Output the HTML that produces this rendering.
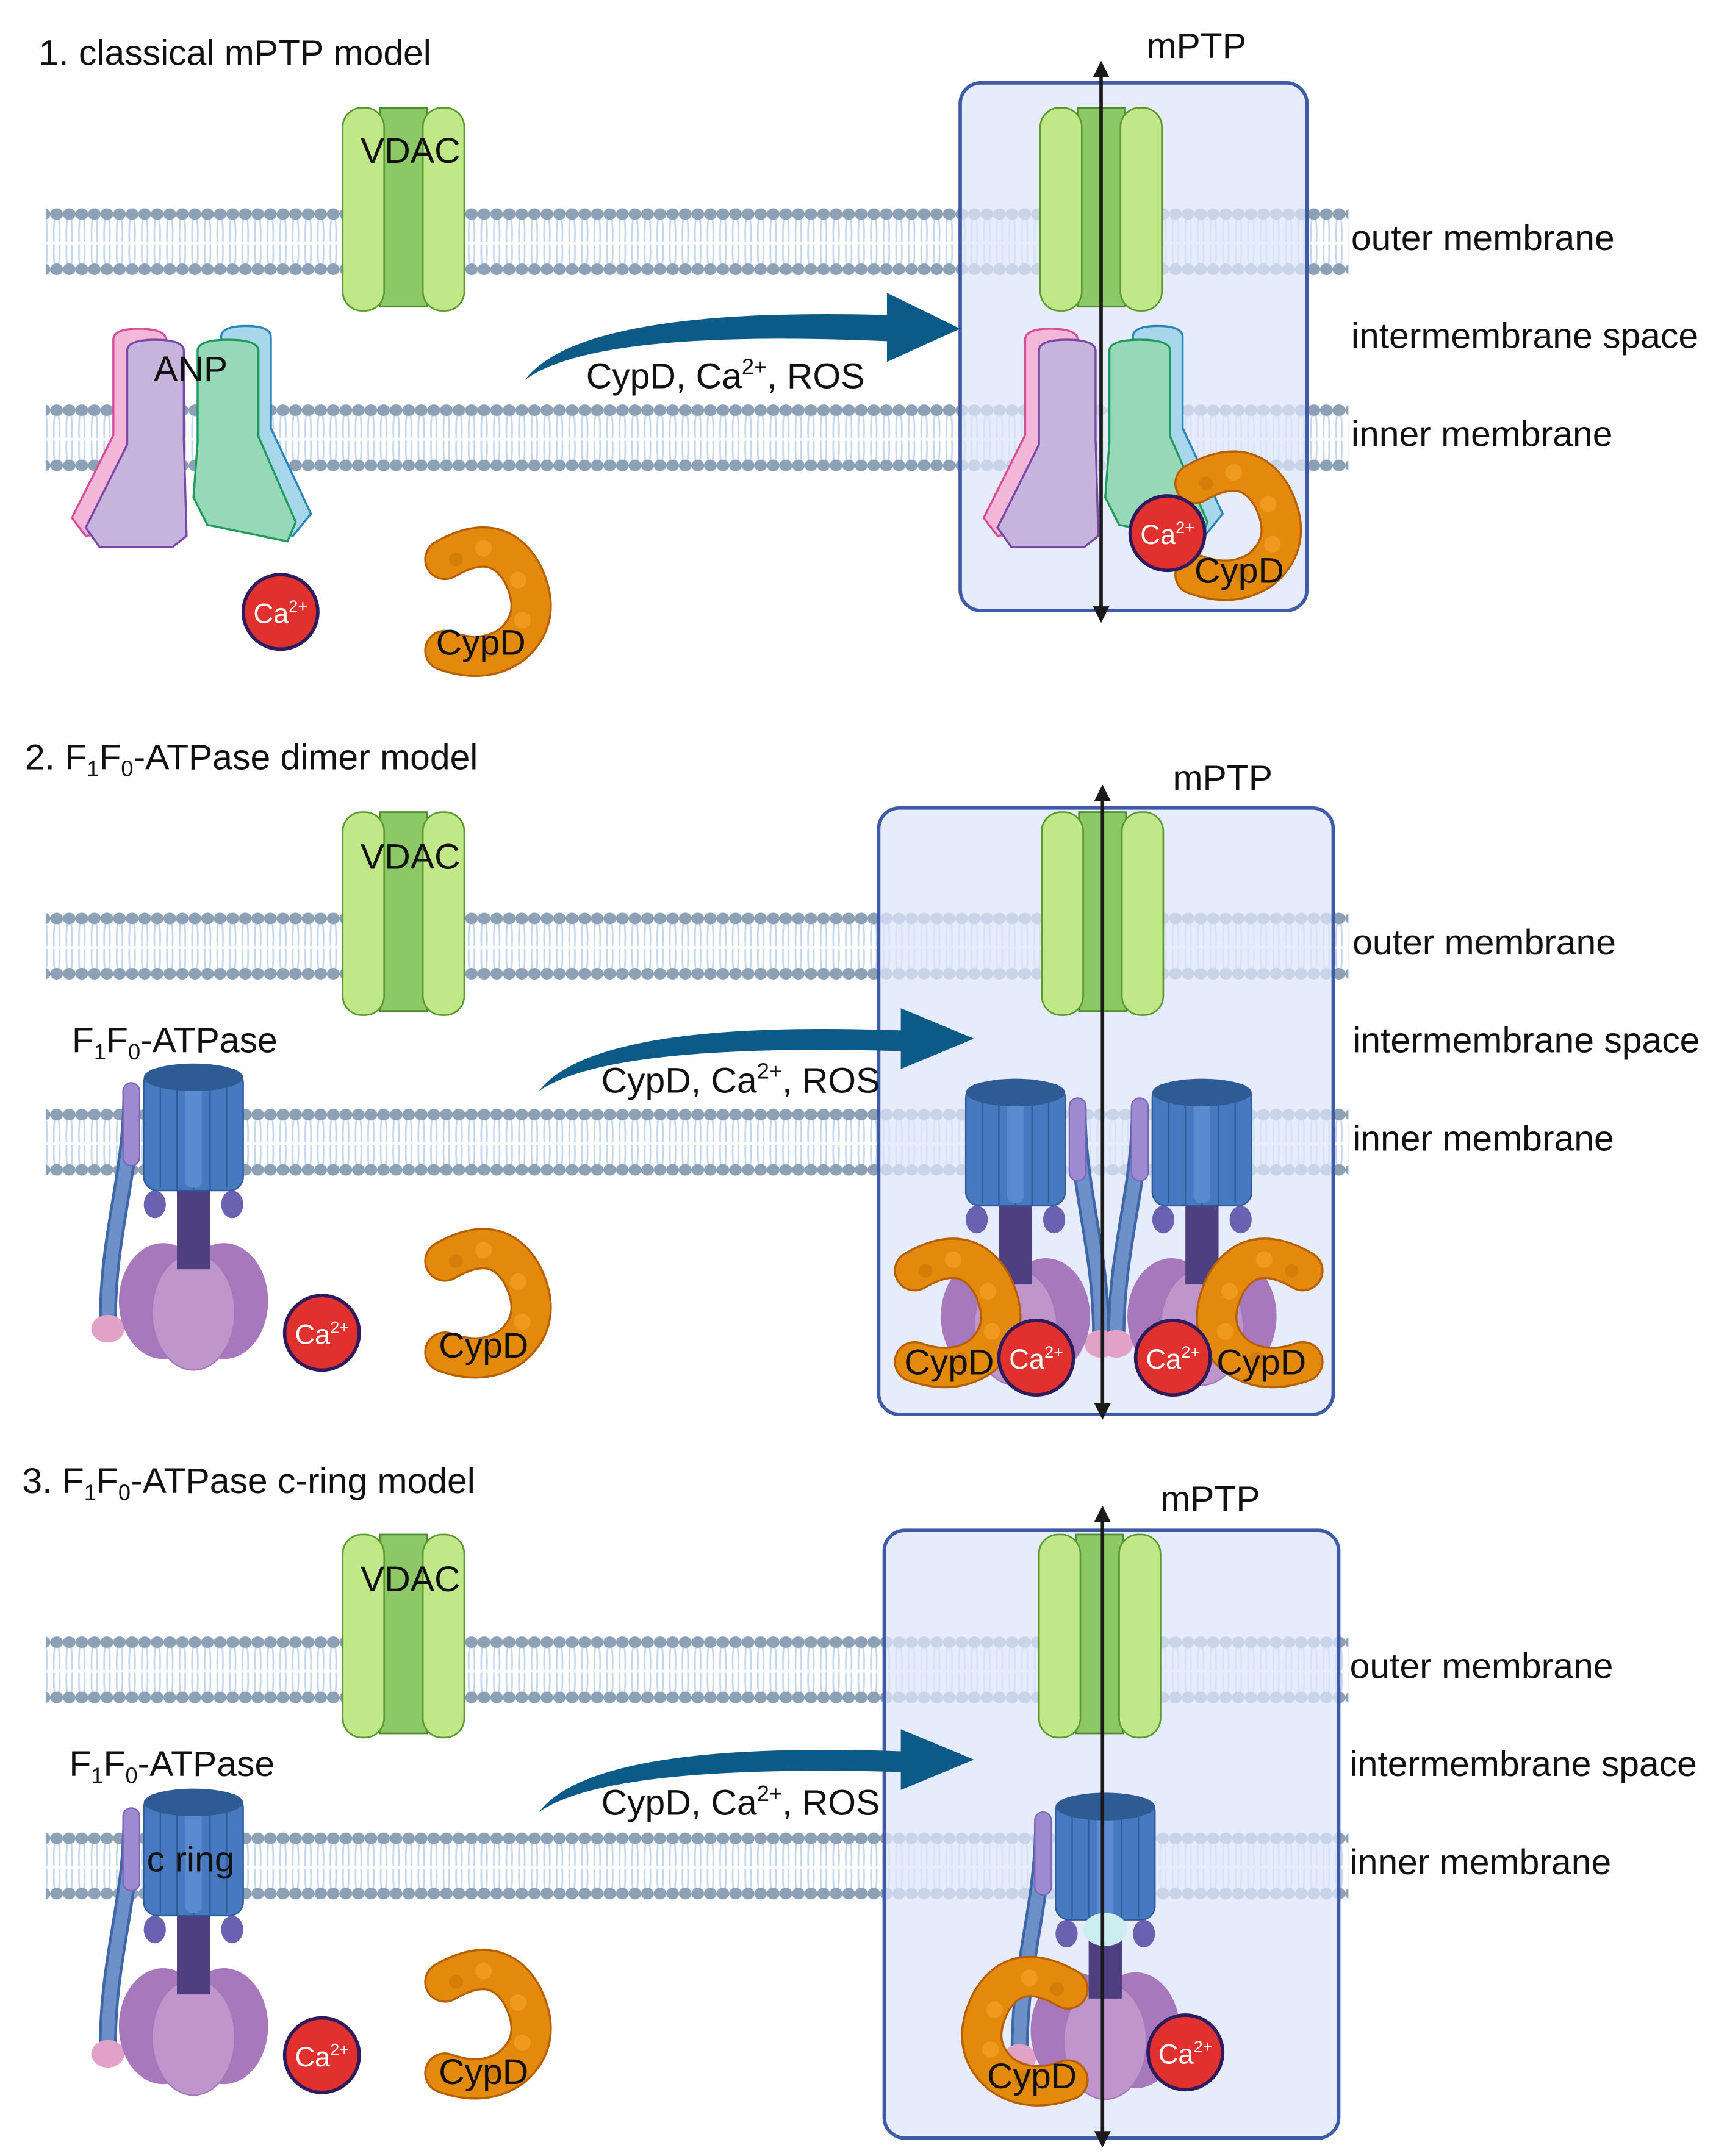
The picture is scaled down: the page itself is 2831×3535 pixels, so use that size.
<!DOCTYPE html>
<html><head><meta charset="utf-8"><style>
html,body{margin:0;padding:0;background:#fff;}
svg{display:block;}
text{font-family:"Liberation Sans",Arial,sans-serif;fill:#111;}
</style></head><body>
<svg width="2831" height="3535" viewBox="0 0 1250 1561" xmlns="http://www.w3.org/2000/svg">
<defs>
<pattern id="mem" patternUnits="userSpaceOnUse" width="9.1" height="60" x="0" y="0">
  <g stroke="#c3d6ec" stroke-width="1.2" fill="none">
    <path d="M3 9 Q2.2 17 2.6 25"/><path d="M6.1 9 Q7 17 6.5 25"/>
    <path d="M2.6 27 Q2.2 35 3 42"/><path d="M6.1 42 Q7 35 6.5 27"/>
  </g>
  <ellipse cx="4.55" cy="5" rx="4.6" ry="4.2" fill="#8ca1b6"/>
  <ellipse cx="4.55" cy="45" rx="4.6" ry="4.2" fill="#8ca1b6"/>
</pattern>
<g id="vdac">
  <rect x="27" y="0" width="34" height="144" fill="#8cc866" stroke="#4e8d2c" stroke-width="1.2"/>
  <rect x="0" y="0" width="30" height="147" rx="14" fill="#c0e888" stroke="#5a9a30" stroke-width="1.2"/>
  <rect x="58" y="0" width="30" height="147" rx="14" fill="#c0e888" stroke="#5a9a30" stroke-width="1.2"/>
</g>
<g id="cypd">
  <path d="M-28,-30 Q10,-52 28,-20 Q44,12 20,32 Q0,46 -28,36" fill="none" stroke="#b75f00" stroke-width="30" stroke-linecap="round"/>
  <path d="M-28,-30 Q10,-52 28,-20 Q44,12 20,32 Q0,46 -28,36" fill="none" stroke="#e38a0c" stroke-width="27" stroke-linecap="round"/>
  <circle cx="0" cy="-38" r="6" fill="#ef9a1e"/><circle cx="25" cy="-15" r="6" fill="#ef9a1e"/><circle cx="28" cy="14" r="6" fill="#ef9a1e"/><circle cx="-20" cy="-30" r="5" fill="#d47d08"/><circle cx="5" cy="35" r="6" fill="#d47d08"/>
</g>
<g id="ca"><circle cx="0" cy="0" r="27" fill="#e0312e" stroke="#2e1a5c" stroke-width="2.5"/></g>
<g id="atp">
  <path d="M-45,20 C-45,80 -62,120 -62,185" fill="none" stroke="#3f67a8" stroke-width="13" stroke-linecap="round"/>
  <path d="M-45,20 C-45,80 -62,120 -62,185" fill="none" stroke="#6e90c8" stroke-width="9" stroke-linecap="round"/>
  <rect x="-51" y="12" width="12" height="60" rx="6" fill="#9d8ad0" stroke="#7a66b8"/>
  <ellipse cx="-62" cy="190" rx="12" ry="10" fill="#e2a2c8"/>
  <ellipse cx="-28" cy="100" rx="8" ry="10" fill="#6a62b0"/><ellipse cx="28" cy="100" rx="8" ry="10" fill="#6a62b0"/>
  <ellipse cx="-22" cy="170" rx="32" ry="42" fill="#a878bc"/><ellipse cx="22" cy="170" rx="32" ry="42" fill="#a878bc"/>
  <ellipse cx="0" cy="178" rx="30" ry="42" fill="#c095cc" stroke="#a07ab8"/>
  <rect x="-12" y="85" width="24" height="62" fill="#4e4080"/>
  <rect x="-36" y="2" width="72" height="88" rx="10" fill="#4679bf" stroke="#2e5a98"/>
  <g stroke="#2e5a98" stroke-width="1"><line x1="-24" y1="10" x2="-24" y2="88"/><line x1="-12" y1="10" x2="-12" y2="90"/><line x1="0" y1="10" x2="0" y2="90"/><line x1="12" y1="10" x2="12" y2="90"/><line x1="24" y1="10" x2="24" y2="88"/></g>
  <rect x="-6" y="12" width="12" height="76" rx="5" fill="#5a8ad0"/>
  <ellipse cx="0" cy="8" rx="36" ry="10" fill="#2e5b94"/>
</g>
<g id="anp">
  <path d="M82,246 Q82,238 100,238 Q120,238 120,246 L120,310 L108,382 L62,388 L52,375 L82,315 Z" fill="#f3b8d8" stroke="#d84c9a" stroke-width="1.5"/>
  <path d="M92,254 Q92,246 112,246 Q133,246 133,254 L133,318 L135,388 L125,396 L72,396 L62,382 L92,322 Z" fill="#c6b4dc" stroke="#7a48a8" stroke-width="1.5"/>
  <path d="M160,244 Q160,236 178,236 Q196,236 196,244 L196,310 L225,372 L212,388 L180,380 Z" fill="#a8d6ea" stroke="#2b86b8" stroke-width="1.5"/>
  <path d="M143,254 Q143,246 165,246 Q187,246 187,254 L187,316 L214,378 L208,392 L150,380 L140,360 L143,320 Z" fill="#96d8b8" stroke="#1f9a5a" stroke-width="1.5"/>
</g>
</defs>

<!-- membranes -->
<g fill="url(#mem)">
  <g transform="translate(0,150)"><rect x="33" y="0" width="943" height="50"/></g>
  <g transform="translate(0,292)"><rect x="33" y="0" width="943" height="50"/></g>
  <g transform="translate(0,660)"><rect x="33" y="0" width="943" height="50"/></g>
  <g transform="translate(0,802)"><rect x="33" y="0" width="943" height="50"/></g>
  <g transform="translate(0,1184)"><rect x="33" y="0" width="943" height="50"/></g>
  <g transform="translate(0,1326)"><rect x="33" y="0" width="943" height="50"/></g>
</g>

<!-- boxes -->
<rect x="695" y="60" width="251" height="382" rx="15" fill="#dde6fa" fill-opacity="0.75" stroke="#3f5aa6" stroke-width="2.5"/>
<rect x="636" y="585" width="329" height="439" rx="15" fill="#dde6fa" fill-opacity="0.75" stroke="#3f5aa6" stroke-width="2.5"/>
<rect x="640" y="1108" width="329" height="440" rx="15" fill="#dde6fa" fill-opacity="0.75" stroke="#3f5aa6" stroke-width="2.5"/>

<!-- panel 1 -->
<text x="28" y="47" font-size="26">1.  classical mPTP model</text>
<use href="#vdac" x="248" y="78"/>
<text x="297" y="118" font-size="26" text-anchor="middle">VDAC</text>
<use href="#anp"/>
<text x="138" y="276" font-size="26" text-anchor="middle">ANP</text>
<use href="#ca" x="203" y="443"/>
<text x="203" y="451" font-size="20" text-anchor="middle" style="fill:#fff">Ca<tspan font-size="12" dy="-8">2+</tspan></text>
<use href="#cypd" x="350" y="435"/>
<text x="348" y="474" font-size="26" text-anchor="middle">CypD</text>
<path d="M380,275 Q420,222 642,228 L642,212 L695,238 L642,262 L642,247 Q430,238 380,275 Z" fill="#0b5a88"/>
<text x="525" y="281" font-size="26" text-anchor="middle">CypD, Ca<tspan font-size="16" dy="-10">2+</tspan><tspan dy="10">, ROS</tspan></text>
<use href="#vdac" x="753" y="78"/>
<use href="#anp" x="660"/>
<use href="#cypd" x="893" y="380"/>
<use href="#ca" x="845" y="386"/>
<text x="845" y="394" font-size="20" text-anchor="middle" style="fill:#fff">Ca<tspan font-size="12" dy="-8">2+</tspan></text>
<text x="897" y="422" font-size="26" text-anchor="middle">CypD</text>
<text x="866" y="42" font-size="26" text-anchor="middle">mPTP</text>
<text x="978" y="181" font-size="26">outer membrane</text>
<text x="978" y="252" font-size="26">intermembrane space</text>
<text x="978" y="323" font-size="26">inner membrane</text>
<line x1="797" y1="52" x2="797" y2="443" stroke="#1a1a1a" stroke-width="2.5"/>
<path d="M797,44 L791,56 L803,56 Z M797,451 L791,439 L803,439 Z" fill="#1a1a1a"/>

<!-- panel 2 -->
<text x="18" y="557" font-size="26">2. F<tspan font-size="16" dy="5">1</tspan><tspan dy="-5">F</tspan><tspan font-size="16" dy="5">0</tspan><tspan dy="-5">-ATPase dimer model</tspan></text>
<use href="#vdac" x="248" y="588"/>
<text x="297" y="629" font-size="26" text-anchor="middle">VDAC</text>
<text x="52" y="762" font-size="26">F<tspan font-size="16" dy="5">1</tspan><tspan dy="-5">F</tspan><tspan font-size="16" dy="5">0</tspan><tspan dy="-5">-ATPase</tspan></text>
<use href="#atp" x="140" y="772"/>
<use href="#ca" x="233" y="965"/>
<text x="233" y="973" font-size="20" text-anchor="middle" style="fill:#fff">Ca<tspan font-size="12" dy="-8">2+</tspan></text>
<use href="#cypd" x="350" y="943"/>
<text x="350" y="983" font-size="26" text-anchor="middle">CypD</text>
<path d="M390,790 Q430,738 652,746 L652,730 L705,752 L652,774 L652,761 Q440,755 390,790 Z" fill="#0b5a88"/>
<text x="536" y="791" font-size="26" text-anchor="middle">CypD, Ca<tspan font-size="16" dy="-10">2+</tspan><tspan dy="10">, ROS</tspan></text>
<use href="#vdac" x="754" y="588"/>
<g transform="translate(735,783) scale(-1,1)"><use href="#atp"/></g>
<use href="#atp" x="870" y="783"/>
<use href="#cypd" x="690" y="950"/>
<use href="#cypd" transform="translate(915,950) scale(-1,1)"/>
<use href="#ca" x="750" y="983"/>
<text x="750" y="991" font-size="20" text-anchor="middle" style="fill:#fff">Ca<tspan font-size="12" dy="-8">2+</tspan></text>
<use href="#ca" x="849" y="983"/>
<text x="849" y="991" font-size="20" text-anchor="middle" style="fill:#fff">Ca<tspan font-size="12" dy="-8">2+</tspan></text>
<text x="687" y="995" font-size="26" text-anchor="middle">CypD</text>
<text x="913" y="995" font-size="26" text-anchor="middle">CypD</text>
<text x="885" y="572" font-size="26" text-anchor="middle">mPTP</text>
<text x="979" y="691" font-size="26">outer membrane</text>
<text x="979" y="762" font-size="26">intermembrane space</text>
<text x="979" y="833" font-size="26">inner membrane</text>
<line x1="798" y1="576" x2="798" y2="1020" stroke="#1a1a1a" stroke-width="2.5"/>
<path d="M798,568 L792,580 L804,580 Z M798,1028 L792,1016 L804,1016 Z" fill="#1a1a1a"/>

<!-- panel 3 -->
<text x="16" y="1081" font-size="26">3. F<tspan font-size="16" dy="5">1</tspan><tspan dy="-5">F</tspan><tspan font-size="16" dy="5">0</tspan><tspan dy="-5">-ATPase c-ring model</tspan></text>
<use href="#vdac" x="248" y="1111"/>
<text x="297" y="1152" font-size="26" text-anchor="middle">VDAC</text>
<text x="50" y="1286" font-size="26">F<tspan font-size="16" dy="5">1</tspan><tspan dy="-5">F</tspan><tspan font-size="16" dy="5">0</tspan><tspan dy="-5">-ATPase</tspan></text>
<use href="#atp" x="140" y="1297"/>
<text x="138" y="1355" font-size="26" text-anchor="middle">c ring</text>
<use href="#ca" x="233" y="1488"/>
<text x="233" y="1496" font-size="20" text-anchor="middle" style="fill:#fff">Ca<tspan font-size="12" dy="-8">2+</tspan></text>
<use href="#cypd" x="350" y="1465"/>
<text x="350" y="1509" font-size="26" text-anchor="middle">CypD</text>
<path d="M390,1312 Q430,1260 652,1268 L652,1252 L705,1274 L652,1296 L652,1283 Q440,1277 390,1312 Z" fill="#0b5a88"/>
<text x="536" y="1314" font-size="26" text-anchor="middle">CypD, Ca<tspan font-size="16" dy="-10">2+</tspan><tspan dy="10">, ROS</tspan></text>
<use href="#vdac" x="752" y="1111"/>
<use href="#atp" x="800" y="1300"/>
<ellipse cx="800" cy="1397" rx="16" ry="12" fill="#cdeef0"/>
<use href="#cypd" transform="translate(745,1470) scale(-1,1)"/>
<use href="#ca" x="858" y="1486"/>
<text x="858" y="1494" font-size="20" text-anchor="middle" style="fill:#fff">Ca<tspan font-size="12" dy="-8">2+</tspan></text>
<text x="747" y="1512" font-size="26" text-anchor="middle">CypD</text>
<text x="876" y="1094" font-size="26" text-anchor="middle">mPTP</text>
<text x="977" y="1215" font-size="26">outer membrane</text>
<text x="977" y="1286" font-size="26">intermembrane space</text>
<text x="977" y="1357" font-size="26">inner membrane</text>
<line x1="798" y1="1098" x2="798" y2="1547" stroke="#1a1a1a" stroke-width="2.5"/>
<path d="M798,1090 L792,1102 L804,1102 Z M798,1555 L792,1543 L804,1543 Z" fill="#1a1a1a"/>
</svg>
</body></html>
